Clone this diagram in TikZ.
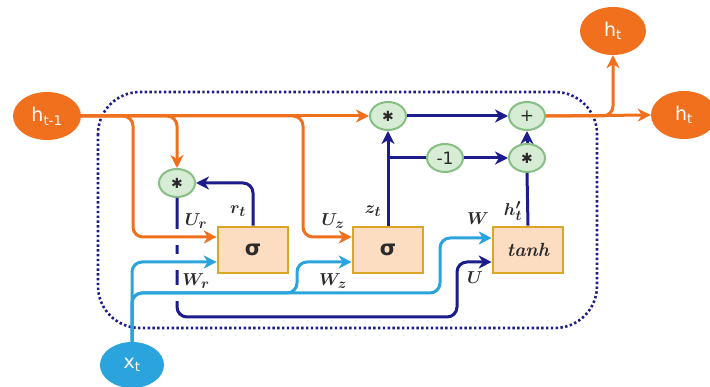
\documentclass[tikz,border=0pt]{standalone}
\usepackage{fontspec}
\setsansfont{DejaVu Sans}
\usetikzlibrary{shapes.geometric,arrows.meta,calc}
\definecolor{orng}{HTML}{F0701E}
\definecolor{navy}{HTML}{1C1C8C}
\definecolor{cyn}{HTML}{2BA3DC}
\definecolor{gfill}{HTML}{D6ECD4}
\definecolor{gdraw}{HTML}{86BE84}
\definecolor{bfill}{HTML}{FCDDC2}
\definecolor{bdraw}{HTML}{D9A628}
\definecolor{lbl}{HTML}{2A2A2A}
\tikzset{
  hnode/.style={ellipse,fill=orng,draw=none,text=white,minimum width=68pt,minimum height=48pt,inner sep=0pt,font=\sffamily\fontsize{19}{21}\selectfont},
  xnode/.style={ellipse,fill=cyn,draw=none,text=white,minimum width=64pt,minimum height=46pt,inner sep=0pt,font=\sffamily\fontsize{19}{21}\selectfont},
  gate/.style={ellipse,fill=gfill,draw=gdraw,line width=2pt,minimum width=36pt,minimum height=28pt,inner sep=0pt,text=lbl,font=\sffamily\fontsize{17}{19}\selectfont},
  gatebox/.style={rectangle,fill=bfill,draw=bdraw,line width=2.6pt,minimum width=70pt,minimum height=46pt,inner sep=0pt},
  oline/.style={draw=orng,line width=3pt,rounded corners=10pt},
  bline/.style={draw=navy,line width=3pt,rounded corners=10pt},
  cline/.style={draw=cyn,line width=3pt,rounded corners=10pt},
  tip/.style={-{Stealth[length=13pt,width=13pt,inset=4pt]}},
  wlab/.style={text=lbl,font=\fontsize{19}{21}\selectfont\boldmath},
  gap/.style={draw=white,line width=8pt}
}
\newcommand{\gateast}{{\sffamily\fontsize{14}{14}\selectfont ✱}}
\begin{document}
\begin{tikzpicture}[x=1pt,y=-1pt]
\path[use as bounding box] (0,0) rectangle (710,387);
% frame
\draw[navy,line width=2.6pt,dash pattern=on 2.4pt off 2.4pt,rounded corners=42pt] (98,92) rectangle (597,328);
% nodes
\node[hnode] (hprev) at (47,116) {h\textsubscript{t-1}};
\node[hnode,minimum width=66pt] (htop) at (613,31) {h\textsubscript{t}};
\node[hnode,minimum width=66pt] (hright) at (684,115) {h\textsubscript{t}};
\node[xnode] (xt) at (132,365) {x\textsubscript{t}};
\node[gate] (m1) at (177,183) {\gateast};
\node[gate] (m2) at (388,116) {\gateast};
\node[gate] (pl) at (527,116) {+};
\node[gate] (neg) at (445,158) {-1};
\node[gate] (m3) at (527,158) {\gateast};
\node[gatebox,font=\sffamily\bfseries\fontsize{21}{23}\selectfont,text=lbl] (s1) at (253,250) {σ};
\node[gatebox,font=\sffamily\bfseries\fontsize{21}{23}\selectfont,text=lbl] (s2) at (388,250) {σ};
\node[gatebox,font=\bfseries\itshape\fontsize{19}{21}\selectfont,text=lbl] (th) at (528,250) {tanh};
\coordinate (zb) at (388,158);
% navy connectors
\draw[bline,tip] (s1.north) -- (253,183) -- (m1.east);
\draw[bline,tip] (m1.south) -- (177,317) -- (457,317) -- (457,262) -- ($(th.west)+(0,12)$);
\draw[bline,tip] (s2.north) -- (m2.south);
\draw[bline] (zb) -- (neg.west);
\draw[bline,tip] (neg.east) -- (m3.west);
\draw[bline] (th.north) -- (m3.south);
\draw[bline,tip] (m3.north) -- (pl.south);
\draw[bline,tip] (m2.east) -- (pl.west);
% gaps where lines cross the navy line
\draw[gap] (177,229) -- (177,245);
\draw[gap] (177,254) -- (177,270);
\draw[gap] (177,285) -- (177,301);
% orange connectors
\draw[oline,tip] (hprev.east) -- (m2.west);
\draw[oline,tip] (hprev.east) -- (133,116) -- (133,237) -- ($(s1.west)+(0,-13)$);
\draw[oline,tip] (hprev.east) -- (177,116) -- (m1.north);
\draw[oline,tip] (hprev.east) -- (303,116) -- (303,237) -- ($(s2.west)+(0,-13)$);
\draw[oline,tip] (pl.east) -- (hright.west);
\draw[oline,tip] (pl.east) -- (613,116) -- (htop.south);
% cyan connectors
\draw[cline,tip] (xt.north) -- (132,262) -- ($(s1.west)+(0,12)$);
\draw[cline,tip] (xt.north) -- (132,293) -- (297,293) -- (297,262) -- ($(s2.west)+(0,12)$);
\draw[cline,tip] (xt.north) -- (132,293) -- (440,293) -- (440,238) -- ($(th.west)+(0,-12)$);
% labels
\node[wlab] (lur) at (196,221) {$U_r$};
\node[wlab] (lrt) at (238,211) {$r_t$};
\node[wlab] (luz) at (333,221) {$U_z$};
\node[wlab] (lzt) at (373,211) {$z_t$};
\node[wlab] (lwr) at (196,281) {$W_r$};
\node[wlab] (lwz) at (333,281) {$W_z$};
\node[wlab] (lw) at (478,219) {$W$};
\node[wlab] (lht) at (513,211) {$h'_t$};
\node[wlab] (lu) at (475,278) {$U$};
\end{tikzpicture}
\end{document}
